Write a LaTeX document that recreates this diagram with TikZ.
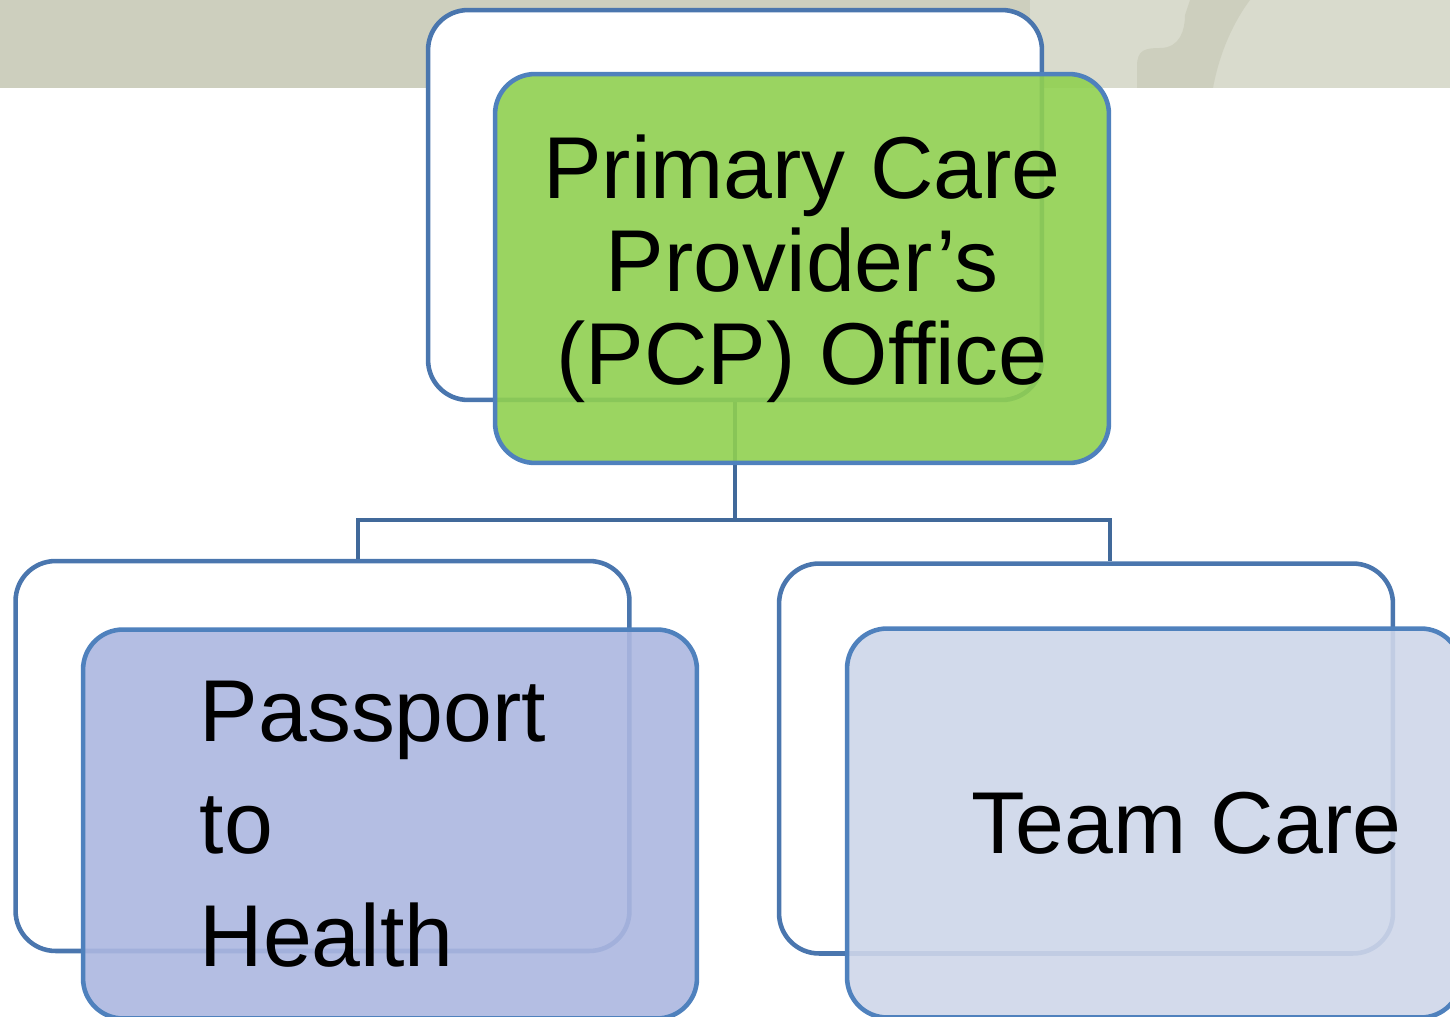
\documentclass[tikz,border=0pt]{standalone}
\usepackage{fontspec}
\setmainfont{Liberation Sans}
\usepackage{tikz}
\usetikzlibrary{calc}

\definecolor{bandgray}{HTML}{CDCFBE}
\definecolor{bandlight}{HTML}{D9DBCD}
\definecolor{frameblue}{HTML}{4A76AE}
\definecolor{boxblue}{HTML}{4F81BD}
\definecolor{linkblue}{HTML}{41699A}
\definecolor{pcpgreen}{HTML}{90D050}
\definecolor{pthblue}{HTML}{ACB7E0}
\definecolor{teamblue}{HTML}{CED6E9}

\begin{document}
\begin{tikzpicture}[x=0.02cm, y=-0.02cm,
	backframe/.style={draw=frameblue, line width=2.6pt, fill=white, rounded corners=0.8cm,
		minimum width=12.28cm, minimum height=7.8cm, inner sep=0pt},
	card/.style={draw=boxblue, line width=2.6pt, fill opacity=0.9, text opacity=1,
		rounded corners=0.8cm, minimum width=12.28cm, minimum height=7.78cm, inner sep=0pt,
		font=\fontsize{50}{53}\selectfont},
	linkline/.style={draw=linkblue, line width=2.2pt}]
	\useasboundingbox (0,0) rectangle (1450,1017);
	\clip (0,0) rectangle (1450,1017);
	% band
	\fill[bandgray] (0,0) rectangle (1450,88);
	\fill[bandlight] (1030,0) rectangle (1450,88);
	\fill[bandgray] (1137,88) -- (1137,66) .. controls (1137,50) and (1145,48) .. (1160,48)
		.. controls (1180,48) and (1185,30) .. (1185,15) -- (1190,0) -- (1250,0)
		.. controls (1235,20) and (1220,50) .. (1213,88) -- cycle;
	% back frames
	\node[backframe] (pcpback) at (735,205) {};
	\node[backframe] (pthback) at (322.5,756) {};
	\node[backframe] (teamback) at (1086,758.5) {};
	% connectors
	\coordinate (hub) at (735,520);
	\draw[linkline] (pcpback.south) -- (hub);
	\draw[linkline] ($(pthback.north)+(35.5,0)$) |- (hub) -| ($(teamback.north)+(24,0)$);
	% front cards
	\node[card, fill=pcpgreen, align=center] (pcp) at (802,268.5)
		{Primary Care\\Provider’s\\(PCP) Office};
	\node[card, fill=pthblue, align=left, font=\fontsize{50}{64}\selectfont] (pth) at (390,824)
		{Passport\hspace*{0.68cm}\\to\\Health};
	\node[card, fill=teamblue] (team) at (1154,823) {\hspace*{1.3cm}Team Care};
\end{tikzpicture}
\end{document}
